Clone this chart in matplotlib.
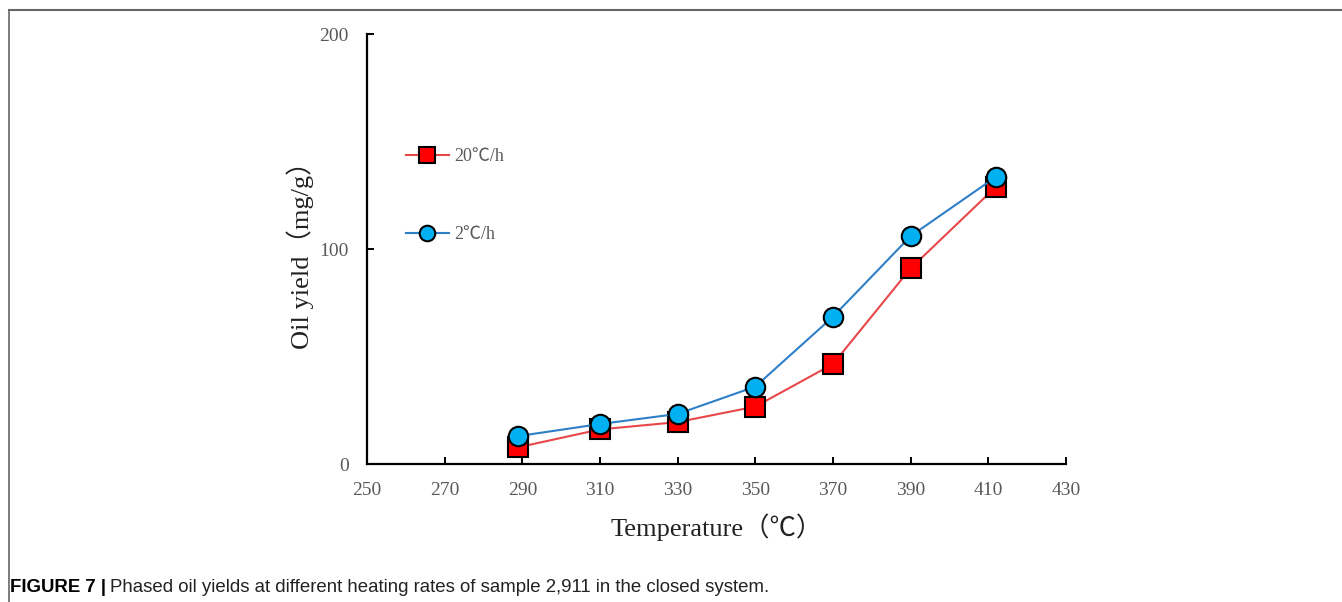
import matplotlib
matplotlib.use('Agg')
import matplotlib.pyplot as plt
from matplotlib.lines import Line2D

# data
temps = [289, 310, 330, 350, 370, 390, 412]
yield_20 = [7.8, 16.1, 19.5, 26.7, 46.5, 91.0, 129.0]
yield_2 = [13.0, 18.6, 23.3, 36.0, 68.5, 106.0, 133.6]
xticks = [250, 270, 290, 310, 330, 350, 370, 390, 410, 430]
yticks = [0, 100, 200]

serif = ['Liberation Serif', 'Noto Sans CJK SC', 'DejaVu Serif']
grey = '#595959'

fig = plt.figure(figsize=(13.42, 6.02), dpi=100)
ax = fig.add_axes([0.2735, 0.2292, 0.5208, 0.7143])

ax.plot(temps, yield_20, color='#E8474A', lw=1.5, marker='s', ms=14,
        mfc='#FF0000', mec='black', mew=1.5, zorder=3, label='20℃/h')
ax.plot(temps, yield_2, color='#2F7FC8', lw=1.5, marker='o', ms=14,
        mfc='#00B0F0', mec='black', mew=1.5, zorder=4, label='2℃/h')

ax.set_xlim(250, 430)
ax.set_ylim(0, 200)
ax.set_xticks(xticks)
ax.set_yticks(yticks)
for s in ['top', 'right']:
    ax.spines[s].set_visible(False)
for s in ['left', 'bottom']:
    ax.spines[s].set_linewidth(1.6)
ax.tick_params(direction='in', length=5, width=1.4, labelsize=14,
               labelcolor=grey)
ax.tick_params(axis='x', pad=13)
ax.tick_params(axis='y', pad=13)
for lab in ax.get_xticklabels() + ax.get_yticklabels():
    lab.set_family(serif)

ax.set_xlabel('Temperature（℃）', family=serif, fontsize=19, color='#222222', labelpad=10)
ax.set_ylabel('Oil yield（mg/g）', family=serif, fontsize=19, color='#222222', labelpad=4)

leg = fig.legend(loc='upper left', bbox_to_anchor=(0.2955, 0.769), frameon=False,
                 borderpad=0, handlelength=2.4, handletextpad=0.3, markerscale=0.8,
                 labelspacing=3.4, prop={'family': serif, 'size': 13})
for t in leg.get_texts():
    t.set_color(grey)

# frame lines of the figure panel
fig.add_artist(Line2D([0.0067, 0.0067], [0.0, 0.983], color='#666666', lw=1.2))
fig.add_artist(Line2D([0.0067, 1.0], [0.983, 0.983], color='#666666', lw=1.5))

# caption
cap1 = fig.text(0.0075, 0.016, 'FIGURE 7 |', family='Liberation Sans',
                fontsize=13.4, fontweight='bold', color='black')
fig.canvas.draw()
bb = cap1.get_window_extent()
fig.text(bb.x1 / fig.bbox.width + 0.003, 0.016,
         'Phased oil yields at different heating rates of sample 2,911 in the closed system.',
         family='Liberation Sans', fontsize=13.4, color='#222222')

fig.savefig('out.png', dpi=100)
